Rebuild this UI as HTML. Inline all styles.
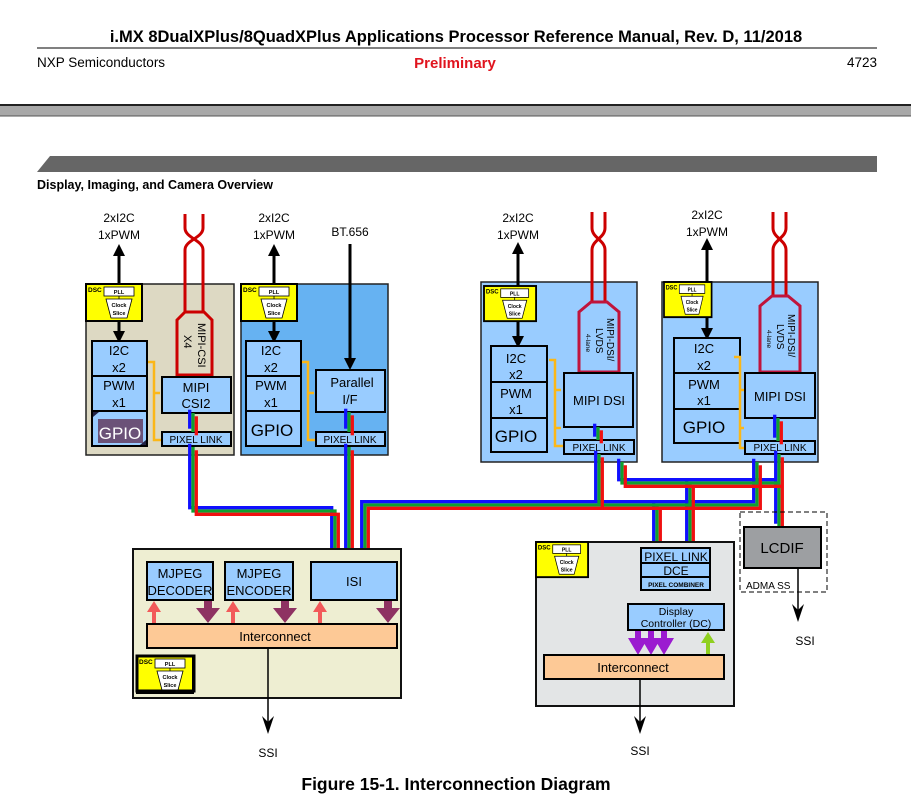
<!DOCTYPE html>
<html><head><meta charset="utf-8"><style>
html,body{margin:0;padding:0;background:#fff;}
svg{display:block;font-family:"Liberation Sans",sans-serif;}
</style></head><body>
<svg width="911" height="804" viewBox="0 0 911 804" xmlns="http://www.w3.org/2000/svg">
<defs>
<g id="dsc">
<rect x="0" y="0" width="56" height="37" fill="#ffff00" stroke="#000" stroke-width="2"/>
<text x="2" y="8" font-size="6.5" font-weight="bold">DSC</text>
<rect x="18" y="3" width="30" height="9" fill="#fff" stroke="#000" stroke-width="0.8"/>
<text x="33" y="10" font-size="5.5" text-anchor="middle" font-weight="bold">PLL</text>
<line x1="33" y1="12" x2="33" y2="15" stroke="#000" stroke-width="0.8"/>
<polygon points="20,15 46,15 41,34 25,34" fill="#fff" stroke="#000" stroke-width="0.8"/>
<text x="33" y="23" font-size="5.5" text-anchor="middle" font-weight="bold">Clock</text>
<text x="33" y="31" font-size="5.5" text-anchor="middle" font-weight="bold">Slice</text>
</g>
<marker id="ah" viewBox="0 0 10 10" refX="5" refY="5" markerWidth="4" markerHeight="5" orient="auto-start-reverse"><path d="M0,0 L10,5 L0,10 Z" fill="#000"/></marker>
<path id="b1" d="M193,447 V511 H335 V562" fill="none"/>
<path id="b2" d="M349,447 V562" fill="none"/>
<path id="b3" d="M365,562 V505 H757 V462" fill="none"/>
<path id="b3a" d="M599,454 V505" fill="none"/>
<path id="b4" d="M622,462 V483 H779" fill="none"/>
<path id="b4a" d="M779,454 V527" fill="none"/>
<path id="b5" d="M657,505 V548" fill="none"/>
<path id="b6" d="M690,483 V548" fill="none"/>
<path id="b7" d="M651,590 V604" fill="none"/>
<path id="b8" d="M700,590 V604" fill="none"/>
<path id="b9" d="M193,413 V432" fill="none"/>
<path id="b10" d="M349,412 V432" fill="none"/>
<path id="b11" d="M598,427 V440" fill="none"/>
<path id="b12" d="M778,418 V441" fill="none"/>
</defs>

<!-- header -->
<text x="456" y="42" font-size="16.5" font-weight="bold" text-anchor="middle">i.MX 8DualXPlus/8QuadXPlus Applications Processor Reference Manual, Rev. D, 11/2018</text>
<line x1="37" y1="48" x2="877" y2="48" stroke="#000" stroke-width="1"/>
<text x="37" y="67" font-size="13.5">NXP Semiconductors</text>
<text x="455" y="68" font-size="15" font-weight="bold" fill="#e0141e" text-anchor="middle">Preliminary</text>
<text x="877" y="67" font-size="13.5" text-anchor="end">4723</text>
<rect x="0" y="105" width="911" height="11" fill="#a8a8a8"/>
<line x1="0" y1="105" x2="911" y2="105" stroke="#222" stroke-width="2"/>
<line x1="0" y1="116" x2="911" y2="116" stroke="#555" stroke-width="1"/>
<polygon points="50,156 877,156 877,172 37,172" fill="#666"/>
<text x="37" y="189" font-size="12.5" font-weight="bold">Display, Imaging, and Camera Overview</text>

<!-- Box1 -->
<rect x="86" y="284" width="148" height="171" fill="#ddd9c3" stroke="#222" stroke-width="1.5"/>
<text x="119" y="222" font-size="12" text-anchor="middle">2xI2C</text>
<text x="119" y="239" font-size="12" text-anchor="middle">1xPWM</text>
<line x1="119" y1="250" x2="119" y2="337" stroke="#000" stroke-width="3" marker-start="url(#ah)" marker-end="url(#ah)"/>
<use href="#dsc" x="86" y="284"/>
<rect x="92" y="341" width="55" height="105" fill="#99ccff" stroke="#000" stroke-width="2"/>
<line x1="92" y1="376" x2="147" y2="376" stroke="#000" stroke-width="2"/>
<line x1="92" y1="411" x2="147" y2="411" stroke="#000" stroke-width="2"/>
<text x="119" y="355" font-size="13" text-anchor="middle">I2C</text>
<text x="119" y="372" font-size="13" text-anchor="middle">x2</text>
<text x="119" y="390" font-size="13" text-anchor="middle">PWM</text>
<text x="119" y="407" font-size="13" text-anchor="middle">x1</text>
<rect x="98" y="419" width="45" height="24" fill="#6b5278"/>
<text x="120" y="439" font-size="17" text-anchor="middle" fill="#fff">GPIO</text>
<polygon points="93,412 99,412 93,417" fill="#224"/><polygon points="146,445 140,445 146,440" fill="#224"/>
<path d="M148,362 H154 V440 H162 M154,393 H160" fill="none" stroke="#fbb718" stroke-width="2.5"/>
<path d="M185,214 V228 C185,238 203,240 203,250 V320 M203,214 V228 C203,238 185,240 185,250 V320" fill="none" stroke="#c00" stroke-width="3"/>
<polygon points="177,320 185,312 204,312 212,320 212,375 177,375" fill="#ddd9c3" stroke="#c00" stroke-width="3"/>
<text transform="translate(198,323) rotate(90)" font-size="11">MIPI-CSI</text>
<text transform="translate(184,335) rotate(90)" font-size="11">X4</text>
<rect x="162" y="377" width="69" height="36" fill="#99ccff" stroke="#000" stroke-width="2"/>
<text x="196" y="392" font-size="13" text-anchor="middle">MIPI</text>
<text x="196" y="408" font-size="13" text-anchor="middle">CSI2</text>
<rect x="162" y="432" width="69" height="14" fill="#99ccff" stroke="#000" stroke-width="2"/>
<text x="196" y="443" font-size="10" text-anchor="middle">PIXEL LINK</text>

<!-- Box2 -->
<rect x="241" y="284" width="147" height="171" fill="#66b2f2" stroke="#222" stroke-width="1.5"/>
<text x="274" y="222" font-size="12" text-anchor="middle">2xI2C</text>
<text x="274" y="239" font-size="12" text-anchor="middle">1xPWM</text>
<line x1="274" y1="250" x2="274" y2="337" stroke="#000" stroke-width="3" marker-start="url(#ah)" marker-end="url(#ah)"/>
<use href="#dsc" x="241" y="284"/>
<text x="350" y="236" font-size="12" text-anchor="middle">BT.656</text>
<line x1="350" y1="244" x2="350" y2="364" stroke="#000" stroke-width="3" marker-end="url(#ah)"/>
<rect x="246" y="341" width="55" height="105" fill="#99ccff" stroke="#000" stroke-width="2"/>
<line x1="246" y1="376" x2="301" y2="376" stroke="#000" stroke-width="2"/>
<line x1="246" y1="411" x2="301" y2="411" stroke="#000" stroke-width="2"/>
<text x="271" y="355" font-size="13" text-anchor="middle">I2C</text>
<text x="271" y="372" font-size="13" text-anchor="middle">x2</text>
<text x="271" y="390" font-size="13" text-anchor="middle">PWM</text>
<text x="271" y="407" font-size="13" text-anchor="middle">x1</text>
<text x="272" y="436" font-size="17" text-anchor="middle">GPIO</text>
<path d="M302,362 H308 V440 H316 M308,393 H314" fill="none" stroke="#fbb718" stroke-width="2.5"/>
<rect x="316" y="370" width="69" height="42" fill="#99ccff" stroke="#000" stroke-width="2"/>
<text x="352" y="387" font-size="13" text-anchor="middle">Parallel</text>
<text x="350" y="404" font-size="13" text-anchor="middle">I/F</text>
<rect x="316" y="432" width="69" height="14" fill="#99ccff" stroke="#000" stroke-width="2"/>
<text x="350" y="443" font-size="10" text-anchor="middle">PIXEL LINK</text>

<!-- Box3 -->
<rect x="481" y="282" width="156" height="180" fill="#99ccff" stroke="#222" stroke-width="1.5"/>
<text x="518" y="222" font-size="12" text-anchor="middle">2xI2C</text>
<text x="518" y="239" font-size="12" text-anchor="middle">1xPWM</text>
<line x1="518" y1="248" x2="518" y2="342" stroke="#000" stroke-width="3" marker-start="url(#ah)" marker-end="url(#ah)"/>
<g transform="translate(484,286) scale(0.93,0.95)"><use href="#dsc"/></g>
<rect x="491" y="346" width="56" height="106" fill="#99ccff" stroke="#000" stroke-width="2"/>
<line x1="491" y1="382" x2="547" y2="382" stroke="#000" stroke-width="2"/>
<line x1="491" y1="418" x2="547" y2="418" stroke="#000" stroke-width="2"/>
<text x="516" y="363" font-size="13" text-anchor="middle">I2C</text>
<text x="516" y="379" font-size="13" text-anchor="middle">x2</text>
<text x="516" y="398" font-size="13" text-anchor="middle">PWM</text>
<text x="516" y="414" font-size="13" text-anchor="middle">x1</text>
<text x="516" y="442" font-size="17" text-anchor="middle">GPIO</text>
<path d="M549,360 H555 V446 H564 M555,390 H561 M555,428 H561" fill="none" stroke="#fbb718" stroke-width="2.5"/>
<path d="M592,212 V228 C592,238 605,240 605,250 V306 M605,212 V228 C605,238 592,240 592,250 V306" fill="none" stroke="#c00" stroke-width="3"/>
<polygon points="579,312 591,302 607,302 619,312 619,372 579,372" fill="#99ccff" stroke="#c0143c" stroke-width="3"/>
<text transform="translate(607,318) rotate(90)" font-size="10">MIPI-DSI/</text>
<text transform="translate(596,328) rotate(90)" font-size="10">LVDS</text>
<text transform="translate(586,334) rotate(90)" font-size="6.5">4-lane</text>
<rect x="564" y="373" width="69" height="54" fill="#99ccff" stroke="#000" stroke-width="2"/>
<text x="599" y="405" font-size="13" text-anchor="middle">MIPI DSI</text>
<rect x="564" y="440" width="70" height="14" fill="#99ccff" stroke="#000" stroke-width="2"/>
<text x="599" y="451" font-size="10" text-anchor="middle">PIXEL LINK</text>

<!-- Box4 -->
<rect x="662" y="282" width="156" height="180" fill="#99ccff" stroke="#222" stroke-width="1.5"/>
<text x="707" y="219" font-size="12" text-anchor="middle">2xI2C</text>
<text x="707" y="236" font-size="12" text-anchor="middle">1xPWM</text>
<line x1="707" y1="244" x2="707" y2="334" stroke="#000" stroke-width="3" marker-start="url(#ah)" marker-end="url(#ah)"/>
<g transform="translate(664,282) scale(0.85,0.95)"><use href="#dsc"/></g>
<rect x="674" y="338" width="66" height="105" fill="#99ccff" stroke="#000" stroke-width="2"/>
<line x1="674" y1="373" x2="740" y2="373" stroke="#000" stroke-width="2"/>
<line x1="674" y1="409" x2="740" y2="409" stroke="#000" stroke-width="2"/>
<text x="704" y="353" font-size="13" text-anchor="middle">I2C</text>
<text x="704" y="370" font-size="13" text-anchor="middle">x2</text>
<text x="704" y="389" font-size="13" text-anchor="middle">PWM</text>
<text x="704" y="405" font-size="13" text-anchor="middle">x1</text>
<text x="704" y="433" font-size="17" text-anchor="middle">GPIO</text>
<path d="M734,357 H740 V448 H746 M740,390 H744 M740,428 H744" fill="none" stroke="#fbb718" stroke-width="2.5"/>
<path d="M773,212 V228 C773,238 786,240 786,250 V304 M786,212 V228 C786,238 773,240 773,250 V304" fill="none" stroke="#c00" stroke-width="3"/>
<polygon points="760,306 772,296 788,296 800,306 800,372 760,372" fill="#99ccff" stroke="#c0143c" stroke-width="3"/>
<text transform="translate(788,314) rotate(90)" font-size="10">MIPI-DSI/</text>
<text transform="translate(777,324) rotate(90)" font-size="10">LVDS</text>
<text transform="translate(767,330) rotate(90)" font-size="6.5">4-lane</text>
<rect x="745" y="373" width="70" height="45" fill="#99ccff" stroke="#000" stroke-width="2"/>
<text x="780" y="401" font-size="13" text-anchor="middle">MIPI DSI</text>
<rect x="745" y="441" width="70" height="13" fill="#99ccff" stroke="#000" stroke-width="2"/>
<text x="780" y="451" font-size="10" text-anchor="middle">PIXEL LINK</text>

<!-- buses -->
<g stroke-width="3.3" fill="none">
<g stroke="#1010ff" transform="translate(-3.3,-3.3)"><use href="#b1"/><use href="#b2"/><use href="#b3"/><use href="#b3a"/><use href="#b4"/><use href="#b4a"/><use href="#b5"/><use href="#b6"/><use href="#b7"/><use href="#b8"/><use href="#b9"/><use href="#b10"/><use href="#b11"/><use href="#b12"/></g>
<g stroke="#10a030"><use href="#b1"/><use href="#b2"/><use href="#b3"/><use href="#b3a"/><use href="#b4"/><use href="#b4a"/><use href="#b5"/><use href="#b6"/><use href="#b7"/><use href="#b8"/><use href="#b9"/><use href="#b10"/><use href="#b11"/><use href="#b12"/></g>
<g stroke="#f01010" transform="translate(3.3,3.3)"><use href="#b1"/><use href="#b2"/><use href="#b3"/><use href="#b3a"/><use href="#b4"/><use href="#b4a"/><use href="#b5"/><use href="#b6"/><use href="#b7"/><use href="#b8"/><use href="#b9"/><use href="#b10"/><use href="#b11"/><use href="#b12"/></g>
</g>

<!-- bottom-left box -->
<rect x="133" y="549" width="268" height="149" fill="#eeeed2" stroke="#111" stroke-width="2"/>
<rect x="147" y="562" width="66" height="38" fill="#99ccff" stroke="#000" stroke-width="2"/>
<text x="180" y="578" font-size="13" text-anchor="middle">MJPEG</text>
<text x="180" y="595" font-size="13" text-anchor="middle">DECODER</text>
<rect x="225" y="562" width="68" height="38" fill="#99ccff" stroke="#000" stroke-width="2"/>
<text x="259" y="578" font-size="13" text-anchor="middle">MJPEG</text>
<text x="259" y="595" font-size="13" text-anchor="middle">ENCODER</text>
<rect x="311" y="562" width="86" height="38" fill="#99ccff" stroke="#000" stroke-width="2"/>
<text x="354" y="586" font-size="13" text-anchor="middle">ISI</text>
<g fill="#f25a5a">
<path d="M152,624 V612 H147 L154,601 L161,612 H156 V624Z"/>
<path d="M231,624 V612 H226 L233,601 L240,612 H235 V624Z"/>
<path d="M318,624 V612 H313 L320,601 L327,612 H322 V624Z"/>
</g>
<g fill="#8e3262">
<path d="M204,601 V608 H196 L208,623 L220,608 H212 V601Z"/>
<path d="M281,601 V608 H273 L285,623 L297,608 H289 V601Z"/>
<path d="M384,601 V608 H376 L388,623 L400,608 H392 V601Z"/>
</g>
<rect x="147" y="624" width="250" height="24" fill="#fdc996" stroke="#000" stroke-width="2"/>
<text x="275" y="641" font-size="13" text-anchor="middle">Interconnect</text>
<use href="#dsc" x="137" y="656"/>
<rect x="137" y="656" width="57" height="35" fill="none" stroke="#000" stroke-width="3"/>
<line x1="268" y1="648" x2="268" y2="730" stroke="#000" stroke-width="1.5"/>
<path d="M262,716 L268,734 L274,716 L268,722Z" fill="#000"/>
<text x="268" y="757" font-size="12" text-anchor="middle">SSI</text>

<!-- DC box -->
<rect x="536" y="542" width="198" height="164" fill="#e3e5e6" stroke="#111" stroke-width="2"/>
<g transform="translate(536,542) scale(0.93,0.95)"><use href="#dsc"/></g>
<rect x="641" y="548" width="69" height="42" fill="#99ccff" stroke="#000" stroke-width="2"/>
<line x1="641" y1="563" x2="710" y2="563" stroke="#000" stroke-width="2"/>
<line x1="641" y1="577" x2="710" y2="577" stroke="#000" stroke-width="2"/>
<text x="676" y="561" font-size="12" text-anchor="middle">PIXEL LINK</text>
<text x="676" y="575" font-size="12" text-anchor="middle">DCE</text>
<text x="676" y="587" font-size="6.5" font-weight="bold" text-anchor="middle">PIXEL COMBINER</text>
<rect x="628" y="604" width="96" height="26" fill="#99ccff" stroke="#000" stroke-width="2"/>
<text x="676" y="615" font-size="10.5" text-anchor="middle">Display</text>
<text x="676" y="627" font-size="10.5" text-anchor="middle">Controller (DC)</text>
<g fill="#9b1bd0">
<path d="M635,631 V638 H628 L638,655 L648,638 H641 V631Z"/>
<path d="M648,631 V638 H641 L651,655 L661,638 H654 V631Z"/>
<path d="M661,631 V638 H654 L664,655 L674,638 H667 V631Z"/>
</g>
<path d="M706,655 V643 H701 L708,632 L715,643 H710 V655Z" fill="#90d020"/>
<rect x="544" y="655" width="180" height="24" fill="#fdc996" stroke="#000" stroke-width="2"/>
<text x="633" y="672" font-size="13" text-anchor="middle">Interconnect</text>
<line x1="640" y1="679" x2="640" y2="730" stroke="#000" stroke-width="1.5"/>
<path d="M634,716 L640,734 L646,716 L640,722Z" fill="#000"/>
<text x="640" y="755" font-size="12" text-anchor="middle">SSI</text>

<!-- LCDIF -->
<rect x="740" y="512" width="87" height="80" fill="none" stroke="#000" stroke-width="1" stroke-dasharray="5,3"/>
<rect x="744" y="527" width="77" height="41" fill="#9d9fa2" stroke="#000" stroke-width="2"/>
<text x="782" y="553" font-size="15" text-anchor="middle">LCDIF</text>
<text x="746" y="589" font-size="10">ADMA SS</text>
<line x1="798" y1="568" x2="798" y2="618" stroke="#000" stroke-width="1.5"/>
<path d="M792,604 L798,622 L804,604 L798,610Z" fill="#000"/>
<text x="805" y="645" font-size="12" text-anchor="middle">SSI</text>

<text x="456" y="790" font-size="17.5" font-weight="bold" text-anchor="middle">Figure 15-1. Interconnection Diagram</text>
</svg>
</body></html>
